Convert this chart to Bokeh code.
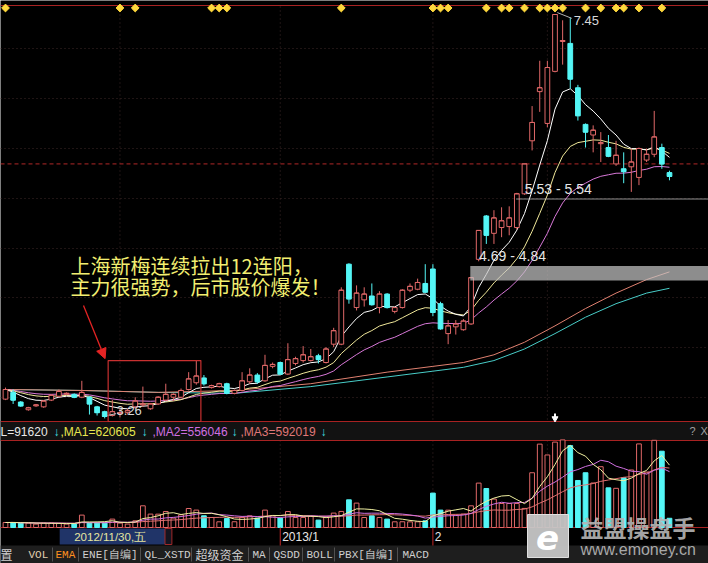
import numpy as np
import pandas as pd
from bokeh.plotting import figure
from bokeh.models import Range1d, Arrow, NormalHead
from bokeh.core.properties import value
from bokeh.embed import file_html
from bokeh.resources import INLINE

# ---- daily bars of 上海新梅, 2012-11-12 .. 2013-03-25 ----
opens = [3.46, 3.53, 3.43, 3.35, 3.39, 3.38, 3.45, 3.49, 3.51, 3.51,
         3.48, 3.48, 3.38, 3.33, 3.29, 3.31, 3.32, 3.38, 3.40, 3.36,
         3.41, 3.45, 3.48, 3.48, 3.56, 3.63, 3.68, 3.58, 3.59, 3.62,
         3.52, 3.55, 3.64, 3.71, 3.65, 3.80, 3.84, 3.72, 3.83, 3.86,
         3.86, 3.91, 3.84, 4.03, 4.03, 4.86, 4.41, 4.49, 4.53, 4.41,
         4.55, 4.37, 4.41, 4.59, 4.60, 4.66, 4.81, 4.45, 4.14, 4.21,
         4.18, 4.24, 4.91, 5.36, 5.18, 5.24, 5.25, 5.24, 5.59, 6.14,
         6.65, 6.32, 6.86, 7.17, 7.15, 6.69, 6.31, 6.20, 6.11, 6.07,
         5.90, 5.85, 5.87, 5.76, 5.94, 6.00, 6.07, 5.81]
highs = [3.58, 3.56, 3.44, 3.38, 3.41, 3.45, 3.51, 3.56, 3.53, 3.52,
         3.65, 3.49, 3.39, 3.34, 3.45, 3.36, 3.36, 3.48, 3.59, 3.42,
         3.49, 3.62, 3.52, 3.57, 3.74, 3.86, 3.71, 3.61, 3.63, 3.63,
         3.56, 3.74, 3.78, 3.73, 3.92, 3.84, 3.85, 4.04, 3.90, 4.01,
         3.98, 3.93, 4.00, 4.20, 4.62, 4.87, 4.64, 4.62, 4.66, 4.58,
         4.56, 4.42, 4.60, 4.66, 4.71, 4.86, 4.86, 4.47, 4.28, 4.28,
         4.29, 4.72, 5.21, 5.37, 5.42, 5.45, 5.46, 5.60, 5.90, 6.50,
         6.97, 6.97, 7.45, 7.39, 7.42, 6.72, 6.32, 6.30, 6.23, 6.20,
         6.14, 6.02, 6.06, 6.07, 6.06, 6.45, 6.11, 5.83]
lows = [3.45, 3.41, 3.38, 3.34, 3.38, 3.37, 3.44, 3.48, 3.50, 3.47,
        3.47, 3.30, 3.29, 3.26, 3.28, 3.27, 3.30, 3.36, 3.38, 3.35,
        3.40, 3.44, 3.44, 3.47, 3.55, 3.61, 3.60, 3.57, 3.58, 3.51,
        3.51, 3.54, 3.62, 3.62, 3.64, 3.78, 3.72, 3.71, 3.81, 3.84,
        3.85, 3.83, 3.83, 4.00, 4.02, 4.45, 4.38, 4.42, 4.43, 4.35,
        4.40, 4.35, 4.40, 4.57, 4.59, 4.56, 4.32, 4.18, 4.03, 4.13,
        4.17, 4.23, 4.89, 5.07, 5.07, 5.14, 5.16, 5.22, 5.58, 6.04,
        6.44, 6.28, 6.85, 6.93, 6.68, 6.35, 6.07, 6.02, 5.92, 5.97,
        5.88, 5.70, 5.61, 5.68, 5.92, 5.97, 5.85, 5.73]
closes = [3.56, 3.45, 3.39, 3.37, 3.40, 3.44, 3.50, 3.54, 3.52, 3.48,
          3.53, 3.41, 3.32, 3.28, 3.33, 3.32, 3.34, 3.44, 3.41, 3.41,
          3.48, 3.51, 3.51, 3.55, 3.67, 3.70, 3.62, 3.60, 3.62, 3.52,
          3.55, 3.65, 3.71, 3.64, 3.81, 3.82, 3.72, 3.87, 3.88, 3.92,
          3.90, 3.87, 3.98, 4.17, 4.59, 4.50, 4.56, 4.55, 4.44, 4.55,
          4.41, 4.41, 4.59, 4.63, 4.67, 4.57, 4.36, 4.19, 4.22, 4.24,
          4.27, 4.72, 5.21, 5.16, 5.34, 5.31, 5.34, 5.59, 5.90, 6.33,
          6.69, 6.90, 7.45, 7.18, 6.78, 6.40, 6.23, 6.25, 6.12, 5.98,
          5.99, 5.82, 5.92, 6.06, 6.00, 6.18, 5.90, 5.77]
volumes = [49800, 50300, 43800, 44100, 33800, 43500, 44200, 39800, 33900, 34300,
           123400, 43800, 44500, 43600, 83600, 43900, 34100, 66700, 216000, 133400,
           132800, 159300, 93600, 126400, 189100, 173200, 116500, 99500, 56700, 89600,
           57300, 100200, 116100, 93600, 173200, 116800, 93900, 159300, 99300, 100100,
           109500, 73700, 106500, 143300, 159800, 275700, 242900, 99500, 116500, 99800,
           83600, 56700, 57100, 56400, 56900, 66700, 342400, 173200, 172600, 123400,
           133400, 216000, 442000, 388200, 282700, 238900, 239400, 238700, 190000, 545000,
           830000, 722000, 850000, 872000, 815000, 468000, 545000, 442920, 605000, 395000,
           390000, 495000, 572435, 832000, 552000, 868000, 759405, 91620]

# bars flagged by the signal row along the top edge
signal_days = [0, 15, 17, 27, 28, 29, 44, 56, 57, 58, 63, 65, 66, 68, 70,
               71, 72, 73, 76, 78, 80, 81, 83, 86]

# long-period averages (carry history from before the window)
long_idx = [0, 10, 20, 30, 40, 50, 56, 60, 64, 68, 72, 76, 80, 84, 87]
long_ma_a = [3.56, 3.55, 3.53, 3.55, 3.62, 3.74, 3.80, 3.84, 3.92, 4.05, 4.22, 4.40, 4.56, 4.70, 4.78]
long_ma_b = [3.56, 3.55, 3.53, 3.52, 3.59, 3.69, 3.75, 3.79, 3.86, 3.98, 4.14, 4.31, 4.45, 4.56, 4.61]

# chip-cost zones: (low, high, first bar)
chip_zones = [(4.69, 4.84, 61), (5.53, 5.54, 67)]

note_lines = ["上海新梅连续拉出12连阳，", "主力很强势，后市股价爆发！"]
tool_tabs = ["置", "VOL", "EMA", "ENE[自编]", "QL_XSTD", "超级资金", "MA", "QSDD", "BOLL", "PBX[自编]", "MACD"]

# ---- trading calendar ----
days = pd.bdate_range("2012-11-12", "2013-03-25")
closed = pd.to_datetime(["2013-01-01", "2013-01-02", "2013-01-03", "2013-02-11",
                         "2013-02-12", "2013-02-13", "2013-02-14", "2013-02-15"])
dates = days[~days.isin(closed)][:len(closes)]
n = len(closes)
idx = np.arange(n)
month_starts = [i for i in range(1, n) if dates[i].month != dates[i - 1].month]

o, h, l, c = map(np.array, (opens, highs, lows, closes))
vol = np.array(volumes, dtype=float)
up = c >= o
dn = ~up

# ---- screen geometry ----
W, H = 708, 563
BAR_PX = 7.632
X0 = -5 / BAR_PX
X1 = X0 + W / BAR_PX
PX_PER_YUAN = 96.4
P_TOP = h.max() + 14 / PX_PER_YUAN
P_BOT = P_TOP - H / PX_PER_YUAN
VOL_PER_PX = 9954
VOL_BASE = 527


def fx(px):
    return X0 + px / BAR_PX


def fy(py):
    return P_TOP - py / PX_PER_YUAN


UP_COL = "#e06868"
DN_COL = "#54f6f6"
RED = "#a82222"
GRID = "#3e2828"

p = figure(width=W, height=H, x_range=Range1d(X0, X1), y_range=Range1d(P_BOT, P_TOP),
           output_backend="svg", toolbar_location=None, min_border=0,
           x_axis_location=None, y_axis_location=None,
           background_fill_color="black", border_fill_color="black", outline_line_color=None)
p.grid.visible = False
p.extra_y_ranges = {"vol": Range1d(-(H - VOL_BASE) * VOL_PER_PX, VOL_BASE * VOL_PER_PX)}

# ---- panel chrome ----
p.quad(left=[fx(0)], right=[fx(W)], top=[fy(421)], bottom=[fy(440)], fill_color="#121212", line_color=None)
p.quad(left=[fx(0)], right=[fx(W)], top=[fy(545)], bottom=[fy(H)], fill_color="#1e1e1e", line_color=None)

rows = [48, 98, 148, 198, 248, 297, 347, 397]
p.segment(x0=[fx(0)] * len(rows), x1=[fx(W)] * len(rows), y0=[fy(r) for r in rows],
          y1=[fy(r) for r in rows], line_color=GRID, line_dash="1 3", line_width=1)
ms = month_starts
p.segment(x0=ms, x1=ms, y0=[fy(6)] * len(ms), y1=[fy(421)] * len(ms),
          line_color=GRID, line_dash="1 3")
p.segment(x0=ms, x1=ms, y0=[fy(440)] * len(ms), y1=[fy(527)] * len(ms),
          line_color=GRID, line_dash="1 3")

borders = [5, 421, 440, 527]
p.segment(x0=[fx(0)] * 4, x1=[fx(W)] * 4, y0=[fy(b) for b in borders],
          y1=[fy(b) for b in borders], line_color=RED, line_width=1.2)

# previous close reference
p.segment(x0=[fx(0)], x1=[fx(W)], y0=[c[-2]], y1=[c[-2]], line_color="#b02828",
          line_dash="4 3", line_width=1)

# ---- averages ----
cs = pd.Series(c)
ema_fast = cs.ewm(span=7, adjust=False).mean()
ema_mid = cs.ewm(span=15, adjust=False).mean()
ema_slow = cs.ewm(span=25, adjust=False).mean()
p.line(long_idx, long_ma_b, line_color="#48cdc8", line_width=1)
p.line(long_idx, long_ma_a, line_color="#e08070", line_width=1)
p.line(idx, ema_slow, line_color="#d878d8", line_width=1)
p.line(idx, ema_mid, line_color="#f0e89a", line_width=1)
p.line(idx, ema_fast, line_color="#ffffff", line_width=1)

# ---- candles ----
BW = 0.62
colors = np.where(up, UP_COL, DN_COL)
p.segment(x0=idx, x1=idx, y0=l, y1=h, line_color=list(colors))
p.vbar(x=idx[up], width=BW, top=c[up], bottom=o[up], fill_color="black", line_color=UP_COL)
p.vbar(x=idx[dn], width=BW, top=o[dn], bottom=c[dn], fill_color=DN_COL, line_color=DN_COL)
p.segment(x0=idx - BW / 2, x1=idx + BW / 2, y0=c, y1=c, line_color=list(colors))

# chip zones
for lo_, hi_, start in chip_zones:
    p.quad(left=[start - 0.1], right=[X1], bottom=[lo_], top=[hi_],
           fill_color="#c4c4c4", fill_alpha=0.72, line_color=None)
    p.text(x=[start + 1.05], y=[hi_ + 0.1], text=[f"{lo_:.2f} - {hi_:.2f}"],
           text_font=value("Liberation Sans"), text_font_size=value("14px"),
           text_color="#e6e6e6", text_baseline="middle", text_align="left")

# extreme labels
imax = int(np.argmax(h))
imin = int(np.argmin(l))
p.segment(x0=[imax + 0.3], x1=[imax + 2.2], y0=[h[imax] + 0.02], y1=[h[imax] - 0.04],
          line_color="#b0b0b0")
p.text(x=[imax + 2.45], y=[h[imax] - 0.06], text=[f"{h[imax]:.2f}"],
       text_font=value("Liberation Sans"), text_font_size=value("13px"),
       text_color="#d8d8d8", text_baseline="middle")
p.segment(x0=[imin + 0.35], x1=[imin + 1.5], y0=[l[imin] + 0.03], y1=[l[imin] + 0.05],
          line_color="#c8c8c8")
p.text(x=[imin + 1.55], y=[l[imin] + 0.08], text=[f"{l[imin]:.2f}"],
       text_font=value("Liberation Sans"), text_font_size=value("13px"),
       text_color="#d8d8d8", text_baseline="middle")

# signal diamonds
p.scatter(x=signal_days, y=[fy(7.5)] * len(signal_days), marker="square", size=5.5,
          angle=np.pi / 4, fill_color="#ffd83c", line_color="#ffd83c")

# selected-bar marker
p.segment(x0=[imax], x1=[imax], y0=[fy(413)], y1=[fy(417)], line_color="white", line_width=2)
p.scatter(x=[imax], y=[fy(418)], marker="inverted_triangle", size=6, fill_color="white", line_color="white")

# ---- the 12-bar up streak ----
best, run, end = 0, 0, 0
for i in range(n):
    run = run + 1 if up[i] else 0
    if run > best:
        best, end = run, i
s0 = end - best + 1
box_l, box_r = s0 - 0.55, end + 0.6
box_t = h[s0:end + 1].max()
p.quad(left=[box_l], right=[box_r], top=[box_t], bottom=[fy(421)], fill_alpha=0,
       line_color="#c83030", line_width=1.2)
p.add_layout(Arrow(end=NormalHead(size=10, fill_color="#e42424", line_color="#e42424"),
                   x_start=fx(83), y_start=fy(305), x_end=box_l - 0.4, y_end=box_t + 0.02,
                   line_color="#e42424", line_width=1.3))
for k, line in enumerate(note_lines):
    p.text(x=[fx(70)], y=[fy(265 + 21 * k)], text=[line],
           text_font=value("Noto Sans CJK SC"), text_font_size=value("20px"),
           text_color="#f2ee70", text_baseline="middle", text_align="left")

# ---- volume ----
p.vbar(x=idx[up], width=BW, top=vol[up], bottom=0, fill_color="black",
       line_color=UP_COL, y_range_name="vol")
p.vbar(x=idx[dn], width=BW, top=vol[dn], bottom=0, fill_color=DN_COL,
       line_color=DN_COL, y_range_name="vol")
vs = pd.Series(vol)
ma1 = vs.rolling(5, min_periods=1).mean()
ma2 = vs.rolling(10, min_periods=1).mean()
ma3 = vs.rolling(20, min_periods=1).mean()
p.line(idx, ma3, line_color="#e07070", y_range_name="vol")
p.line(idx, ma2, line_color="#d070e0", y_range_name="vol")
p.line(idx, ma1, line_color="#f0f0a0", y_range_name="vol")

info = [(0, f"L={int(vol[-1])}", "#e8e8e8"), (53, "↓", "#40e0e0"),
        (60, f",MA1={ma1.iloc[-1]:.0f}", "#e8e850"), (141, "↓", "#40e0e0"),
        (152, f",MA2={ma2.iloc[-1]:.0f}", "#d070e0"), (231, "↓", "#40e0e0"),
        (240, f",MA3={ma3.iloc[-1]:.0f}", "#e07878"), (320, "↓", "#40e0e0")]
p.text(x=[fx(a) for a, _, _ in info], y=[fy(431)] * len(info), text=[t for _, t, _ in info],
       text_color=[col for _, _, col in info], text_font=value("Liberation Sans"),
       text_font_size=value("12px"), text_baseline="middle", text_align="left")
p.text(x=[fx(689), fx(700)], y=[fy(430)] * 2, text=["?", "X"], text_color="#a0a0a0",
       text_font=value("Liberation Sans"), text_font_size=value("11px"), text_baseline="middle")

# ---- date row ----
cur = 14
wk = "一二三四五六日"
d = dates[cur]
p.segment(x0=ms[1:3], x1=ms[1:3], y0=[fy(527)] * 2, y1=[fy(545)] * 2, line_color="#c02828")
p.text(x=[m + 0.25 for m in ms[1:3]], y=[fy(536)] * 2,
       text=[f"{dates[ms[1]].year}/{dates[ms[1]].month}", f"{dates[ms[2]].month}"],
       text_color="#e8e8e8", text_font=value("Liberation Sans"), text_font_size=value("12px"),
       text_baseline="middle")
p.quad(left=[cur - 6.9], right=[cur + 6.9], top=[fy(528)], bottom=[fy(544)],
       fill_color="#203468", line_color=None)
p.quad(left=[cur + 6.9], right=[cur + 7.8], top=[fy(528)], bottom=[fy(544)],
       fill_color="#141420", line_color="#a02828")
p.text(x=[cur - 5.0], y=[fy(536)], text=[f"{d.year}/{d.month}/{d.day},{wk[d.weekday()]}"],
       text_color="#e6e6a0", text_font=value("Liberation Sans"), text_font_size=value("11.5px"),
       text_baseline="middle")

# ---- indicator tabs ----
tab_x = [0, 28, 55, 82, 144, 195, 252, 273, 306, 338, 402]
seps = [52, 78, 140, 191, 248, 269, 302, 334, 397]
p.segment(x0=[fx(s) for s in seps], x1=[fx(s) for s in seps], y0=[fy(547)] * len(seps),
          y1=[fy(561)] * len(seps), line_color="#505050")
tab_col = ["#d0d0d0", "#e0d0b0", "#ff9020"] + ["#d0d0d0"] * 8
for x_, t, col in zip(tab_x, tool_tabs, tab_col):
    cjk = all(ord(ch) > 0x2e80 for ch in t)
    p.text(x=[fx(x_)], y=[fy(554)], text=[t], text_color=col,
           text_font=value("Noto Sans CJK SC" if cjk else "Liberation Mono"),
           text_font_size=value("12px" if cjk else "11px"), text_baseline="middle")

# ---- brand mark ----
p.quad(left=[fx(527)], right=[fx(568)], top=[fy(514)], bottom=[fy(557)],
       fill_color="#c6c6c6", fill_alpha=0.95, line_color="#e0e0e0")
p.text(x=[fx(547)], y=[fy(537)], text=["e"], text_color="white",
       text_font=value("DejaVu Sans"), text_font_size=value("34px"),
       text_font_style="bold italic", text_align="center", text_baseline="middle")
p.text(x=[fx(580)], y=[fy(526)], text=["益盟操盘手"], text_color="#b4b4b4", text_alpha=0.92,
       text_font=value("Noto Sans CJK SC"), text_font_size=value("23px"),
       text_font_style="bold", text_baseline="middle")
p.text(x=[fx(580)], y=[fy(549)], text=["www.emoney.cn"], text_color="#a8a8a8",
       text_font=value("Liberation Sans"), text_font_size=value("16px"), text_baseline="middle")

open("out.html", "w").write(file_html(p, INLINE))
